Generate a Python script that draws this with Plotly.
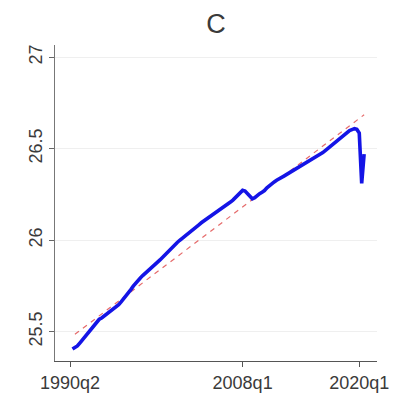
import plotly.graph_objects as go

# quarter index: 0 = 1990q2
tick_pos = [0, 71, 119]
tick_labels = ["1990q2", "2008q1", "2020q1"]
y_ticks = [25.5, 26, 26.5, 27]

start_q = 1
series_c = [
    25.405, 25.413, 25.422, 25.438, 25.455, 25.471, 25.488, 25.503, 25.521, 25.537,
    25.554, 25.568, 25.575, 25.585, 25.592, 25.603, 25.612, 25.624, 25.634, 25.648,
    25.663, 25.678, 25.695, 25.712, 25.730, 25.749, 25.766, 25.781, 25.795, 25.808,
    25.821, 25.834, 25.845, 25.857, 25.868, 25.880, 25.892, 25.906, 25.921, 25.937,
    25.951, 25.965, 25.975, 25.986, 25.998, 26.008, 26.020, 26.031, 26.042, 26.052,
    26.063, 26.074, 26.084, 26.095, 26.104, 26.114, 26.122, 26.132, 26.141, 26.150,
    26.160, 26.170, 26.178, 26.188, 26.198, 26.208, 26.219, 26.231, 26.246, 26.260,
    26.272, 26.268, 26.255, 26.236, 26.226, 26.232, 26.245, 26.254, 26.262, 26.271,
    26.286, 26.298, 26.306, 26.318, 26.327, 26.333, 26.342, 26.350, 26.358, 26.366,
    26.372, 26.381, 26.390, 26.397, 26.403, 26.411, 26.418, 26.426, 26.433, 26.441,
    26.450, 26.458, 26.468, 26.478, 26.489, 26.500, 26.511, 26.524, 26.535, 26.545,
    26.556, 26.566, 26.577, 26.589, 26.599, 26.604, 26.609, 26.605, 26.585, 26.310,
    26.470,
]
trend_q = [2, 121]
trend_v = [25.486, 26.685]

quarters = list(range(start_q, start_q + len(series_c)))

fig = go.Figure()
fig.add_trace(go.Scatter(
    x=trend_q, y=trend_v, mode="lines",
    line=dict(color="rgba(225,80,80,0.85)", width=1.2, dash="5px,5px"),
    showlegend=False, hoverinfo="skip"))
fig.add_trace(go.Scatter(
    x=quarters, y=series_c, mode="lines",
    line=dict(color="#1414e6", width=3.6),
    showlegend=False))

font = dict(family="Liberation Sans, Arial, sans-serif", size=18, color="#3a3a3a")
fig.update_layout(
    width=395, height=404,
    margin=dict(l=55, r=18, t=45, b=43),
    paper_bgcolor="white", plot_bgcolor="white",
    font=font,
    title=dict(text="C", x=0.5, xref="paper", xanchor="center",
               y=1 - 24 / 404, yref="container", yanchor="middle",
               font=dict(family="Liberation Sans, Arial, sans-serif", size=27, color="#3a3a3a")),
)
fig.update_xaxes(
    range=[-6.2, 126.3], tickmode="array", tickvals=tick_pos, ticktext=tick_labels,
    automargin=False,
    showgrid=False, zeroline=False, showline=True, linecolor="#555555", linewidth=1.3,
    ticks="outside", ticklen=5, tickcolor="#555555", tickwidth=1, tickfont=font)
fig.update_yaxes(
    range=[25.34, 27.066], tickmode="array", tickvals=y_ticks,
    ticktext=["25.5", "26", "26.5", "27"], automargin=False,
    showgrid=True, gridcolor="#efefef", gridwidth=1,
    zeroline=False, showline=True, linecolor="#777777", linewidth=1.2,
    ticks="outside", ticklen=5, tickcolor="#666666", tickwidth=1,
    tickangle=-90, tickfont=font)

fig.write_html("out.html")
